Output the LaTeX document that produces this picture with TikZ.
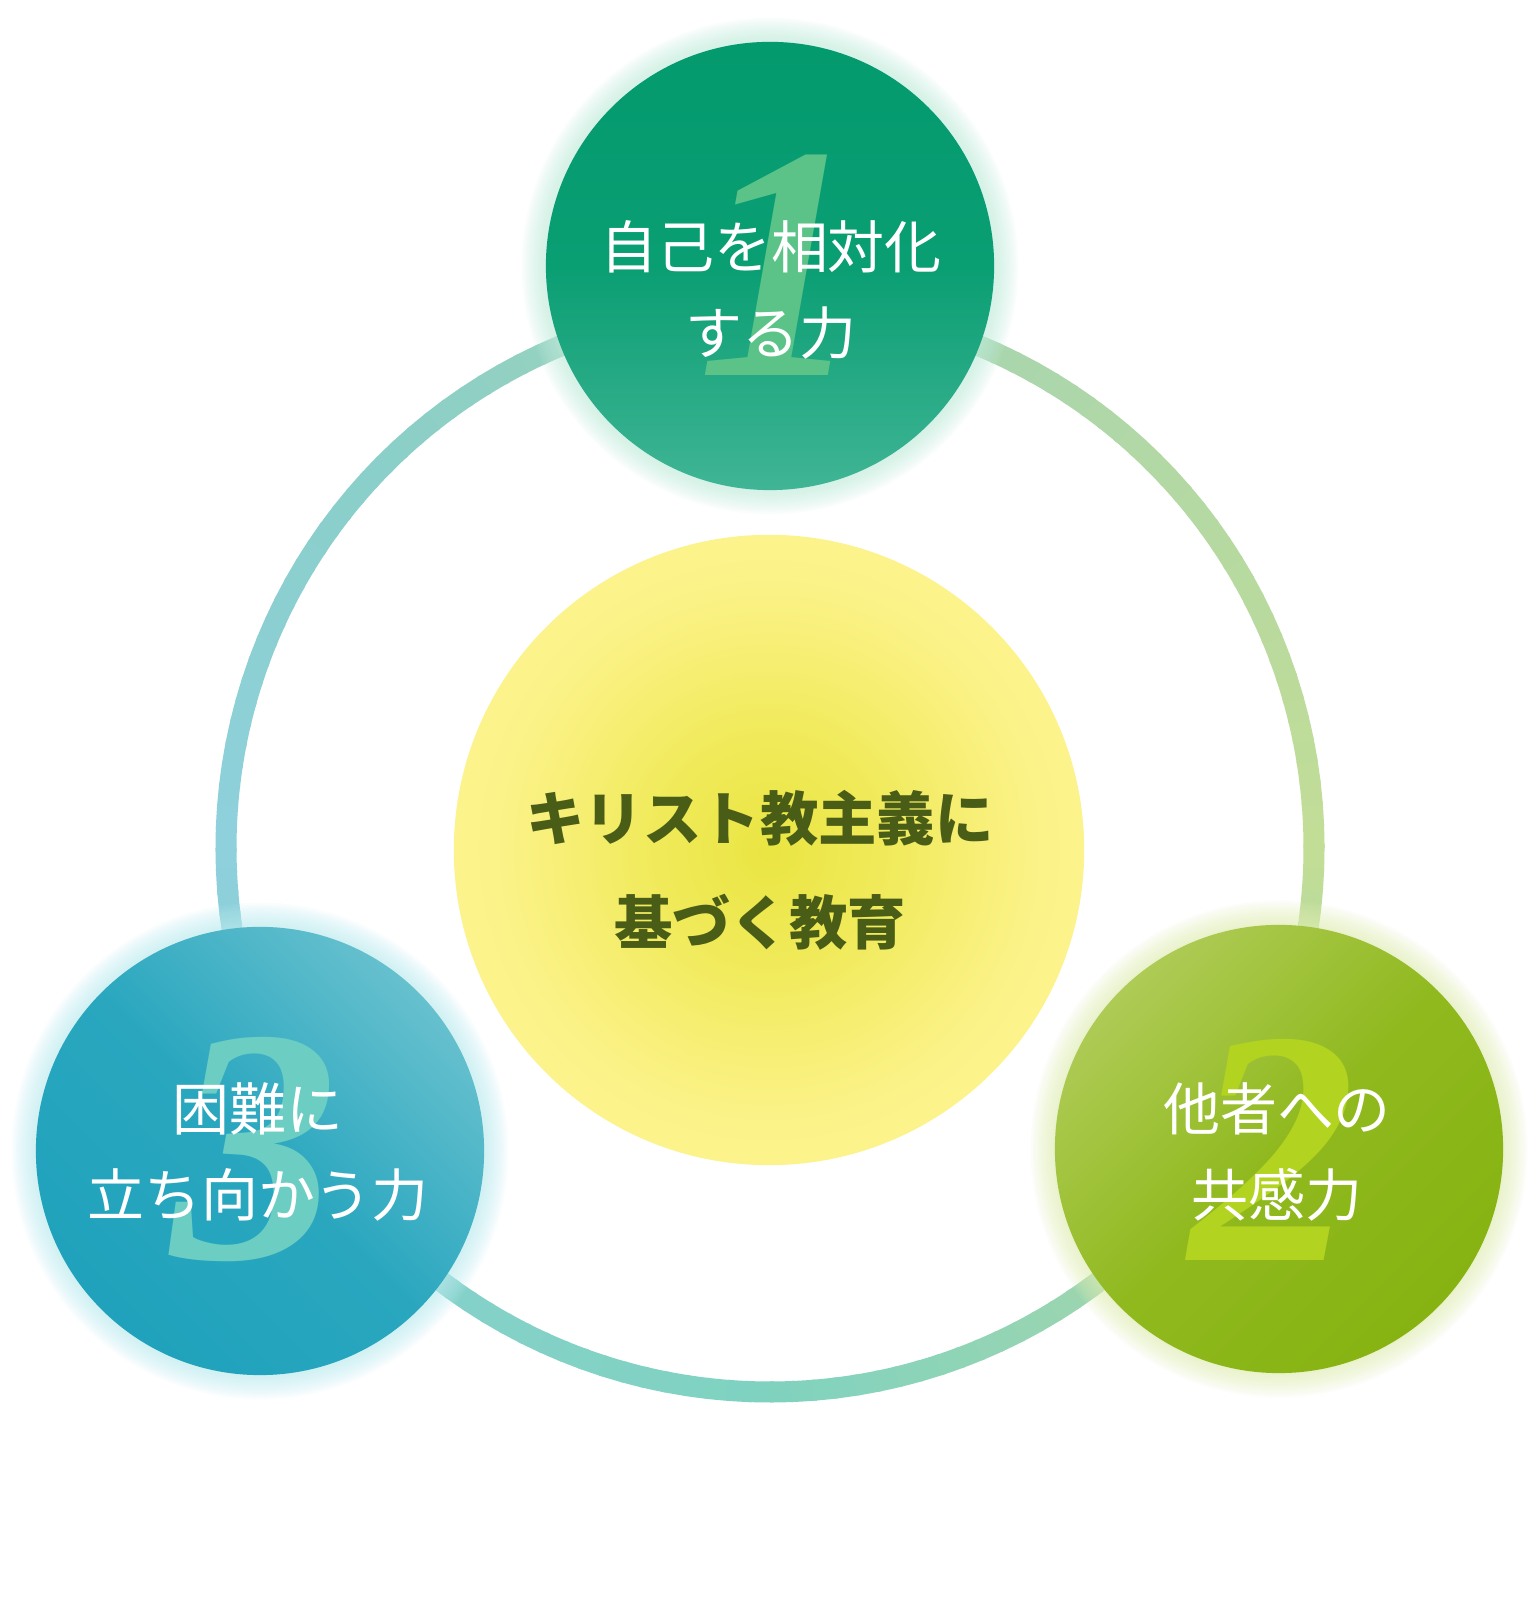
\documentclass[tikz,border=0pt]{standalone}
\usepackage{fontspec}
\newfontfamily\jp{Noto Sans CJK JP}
\newfontfamily\numf{Liberation Serif}
\definecolor{ringR}{HTML}{C2DD96}
\definecolor{ringUR}{HTML}{B2D8A4}
\definecolor{ringT}{HTML}{A0D3B8}
\definecolor{ringUL}{HTML}{8ACFC8}
\definecolor{ringL}{HTML}{8ED0DC}
\definecolor{ringLL}{HTML}{86D1CC}
\definecolor{ringB}{HTML}{7FD2C0}
\definecolor{ringLR}{HTML}{A2D6AC}
\definecolor{yc0}{HTML}{EAE542}
\definecolor{yc1}{HTML}{F0EA5A}
\definecolor{yc2}{HTML}{FBF287}
\definecolor{yc3}{HTML}{FCF38C}
\definecolor{glowA}{HTML}{C4EFDF}
\definecolor{glowB}{HTML}{BFEEF3}
\definecolor{glowC}{HTML}{E3F1B8}
\definecolor{numA}{HTML}{5CC388}
\definecolor{numB}{HTML}{B3D321}
\definecolor{numC}{HTML}{6CCDC3}
\definecolor{coretext}{HTML}{4A5D17}
\definecolor{gA1}{HTML}{039A6E}
\definecolor{gA2}{HTML}{0A9E73}
\definecolor{gA3}{HTML}{40B595}
\definecolor{gB1}{HTML}{AECB55}
\definecolor{gB2}{HTML}{90B91E}
\definecolor{gB3}{HTML}{86B312}
\definecolor{gC1}{HTML}{66C0CE}
\definecolor{gC2}{HTML}{2AA7BF}
\definecolor{gC3}{HTML}{20A2BC}
\pgfdeclareradialshading{yelshade}{\pgfpoint{0bp}{0bp}}{color(0bp)=(yc0); color(9bp)=(yc1); color(21bp)=(yc2); color(25bp)=(yc3); color(50bp)=(yc3)}
\newcommand{\ringpart}[4]{%
  \foreach \k in {0,...,19}{%
    \pgfmathsetmacro{\sa}{#1+(#2-#1)*\k/20}%
    \pgfmathsetmacro{\ea}{#1+(#2-#1)*(\k+1)/20+0.4}%
    \pgfmathtruncatemacro{\pc}{100-100*(\k+0.5)/20}%
    \draw[ringline, color=#3!\pc!#4] (ringc) ++(\sa:544) arc[start angle=\sa, end angle=\ea, radius=544];
  }%
}
\begin{document}
\begin{tikzpicture}[x=0.01cm,y=0.01cm,
  ringline/.style={line width=0.21cm},
  disc/.style={circle, inner sep=0pt, minimum size=4.48cm},
  lbl/.style={text=white, align=center, inner sep=0pt, font=\jp\fontsize{16.2pt}{24.7pt}\selectfont},
  numlbl/.style={inner sep=0pt, font=\numf\bfseries\itshape\fontsize{95pt}{95pt}\selectfont},
  corelbl/.style={text=coretext, align=center, inner sep=0pt, font=\jp\bfseries\fontsize{16.6pt}{29.5pt}\selectfont}]
\useasboundingbox (0,0) rectangle (1536,1616);
\fill[white] (0,0) rectangle (1536,1616);
\coordinate (ringc) at (770,768);
\ringpart{0}{45}{ringR}{ringUR}
\ringpart{45}{90}{ringUR}{ringT}
\ringpart{90}{135}{ringT}{ringUL}
\ringpart{135}{180}{ringUL}{ringL}
\ringpart{180}{225}{ringL}{ringLL}
\ringpart{225}{270}{ringLL}{ringB}
\ringpart{270}{315}{ringB}{ringLR}
\ringpart{315}{360}{ringLR}{ringR}
% centre disc
\node[circle, inner sep=0pt, minimum size=6.3cm, shading=yelshade] (core) at (769,766) {};
% positions of the three discs
\coordinate (p1) at (770,1350);
\coordinate (p2) at (1279,467);
\coordinate (p3) at (260,465);
\foreach \c/\g in {p1/glowA, p2/glowC, p3/glowB}{
  \foreach \i in {1,...,11}{
    \fill[\g, opacity=0.09] (\c) circle[radius=224+2.2*\i];
  }
}
\node[disc, top color=gA1, bottom color=gA3, middle color=gA2] (c1) at (p1) {};
\node[disc, top color=gB1, bottom color=gB3, middle color=gB2, shading angle=45] (c2) at (p2) {};
\node[disc, top color=gC1, bottom color=gC3, middle color=gC2, shading angle=-45] (c3) at (p3) {};
% numbers
\node[numlbl, text=numA] (n1) at (781,1351) {1};
\node[numlbl, text=numB] (n2) at (1273,466) {2};
\node[numlbl, text=numC] (n3) at (255,466) {3};
% labels
\node[lbl] (t1) at (771,1326) {自己を相対化\\する力};
\node[lbl] (t2) at (1277,464) {他者への\\共感力};
\node[lbl] (t3) at (258,464) {困難に\\立ち向かう力};
\node[corelbl] (t0) at (760,746) {キリスト教主義に\\基づく教育};
\end{tikzpicture}
\end{document}
